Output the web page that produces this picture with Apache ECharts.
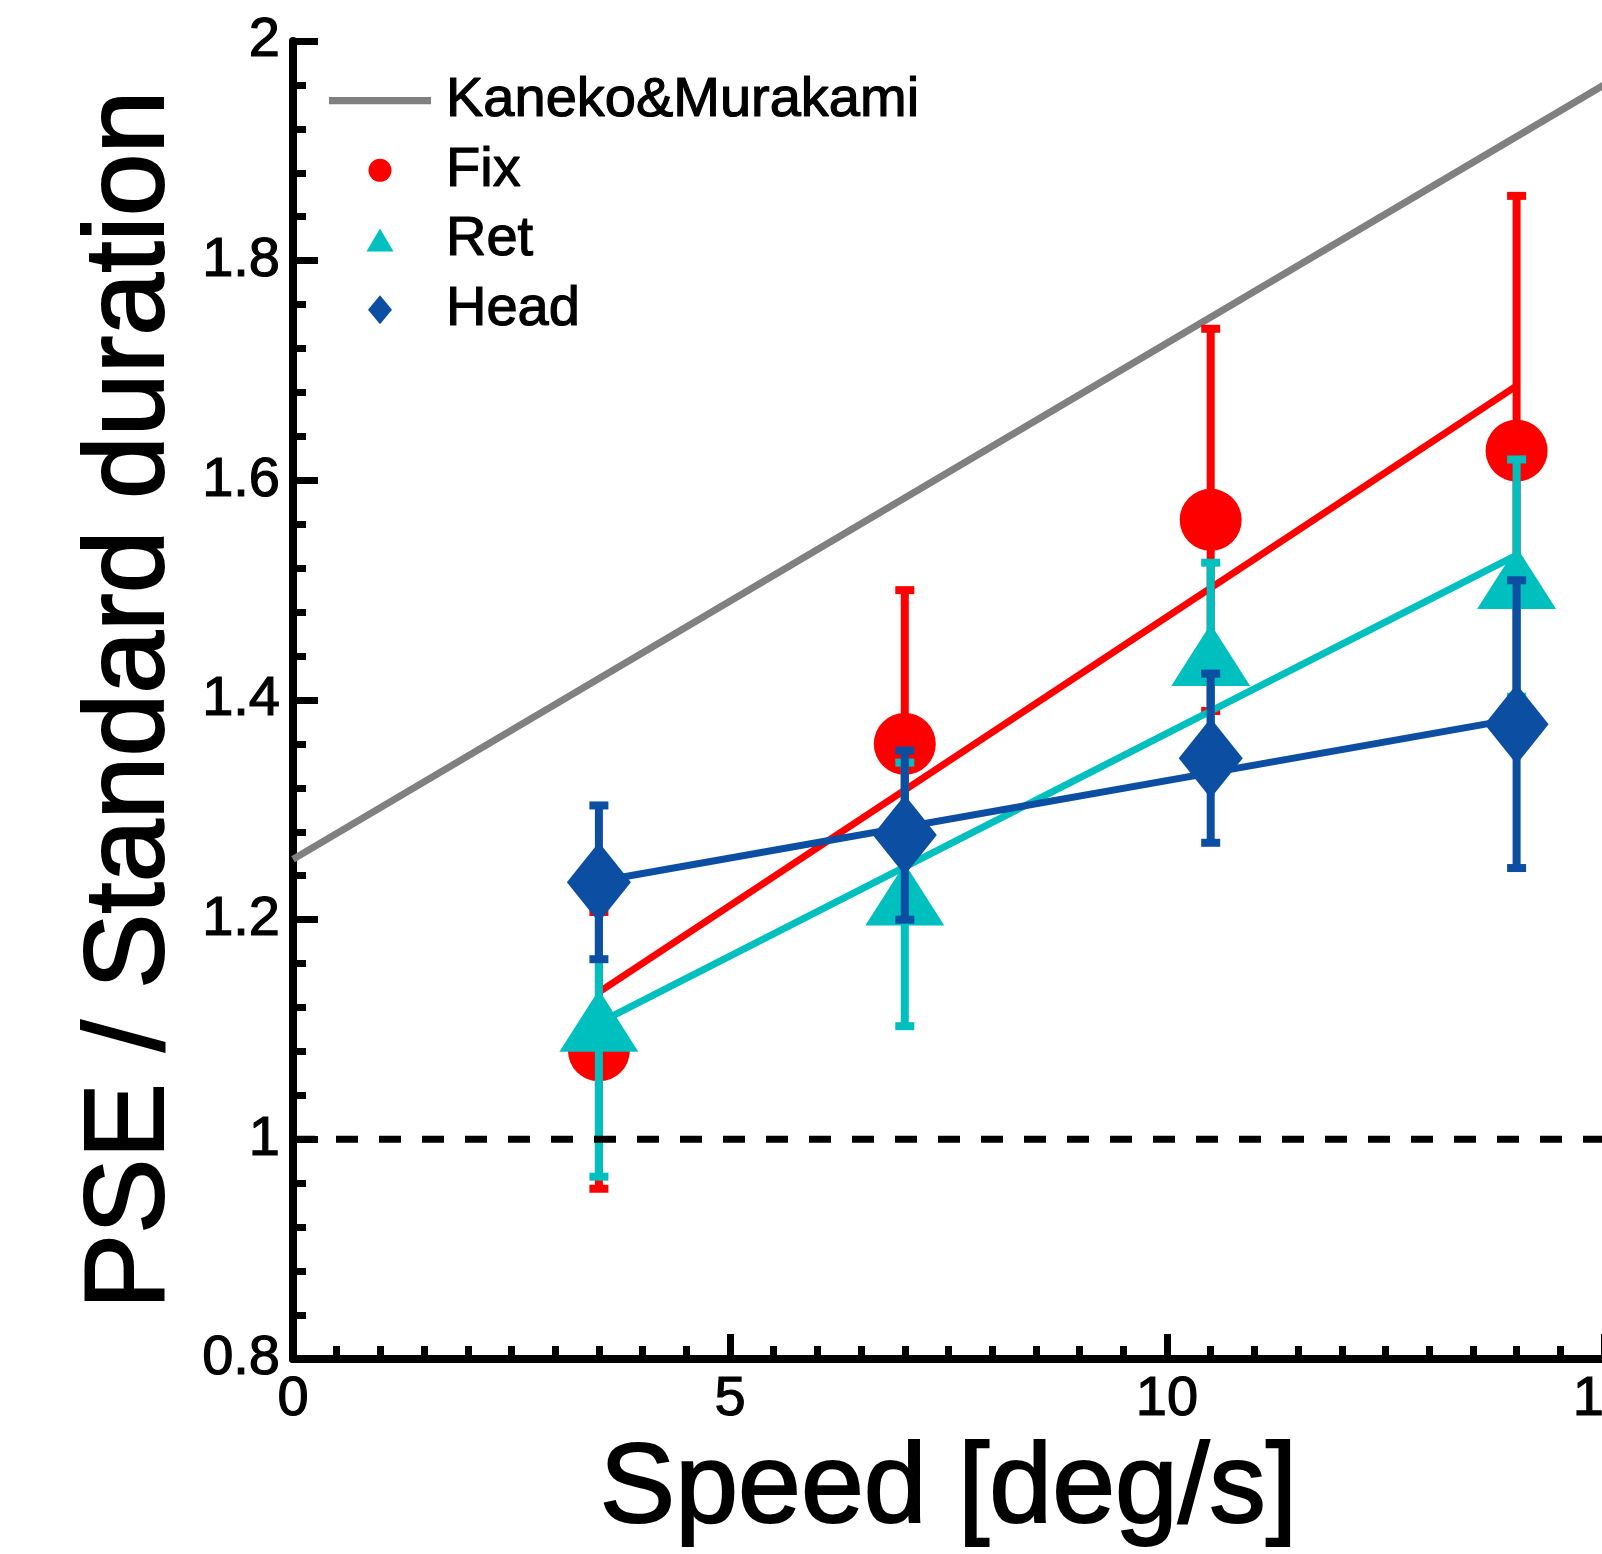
<!DOCTYPE html>
<html>
<head>
<meta charset="utf-8">
<title>PSE / Standard duration</title>
<script src="https://cdn.jsdelivr.net/npm/echarts@6/dist/echarts.min.js"></script>
<style>
  html, body { margin: 0; padding: 0; background: #fff; }
  #chart { width: 1602px; height: 1554px; }
</style>
</head>
<body>
<div id="chart"></div>
<script>
// speeds tested (deg/s)
const speeds = [3.5, 7, 10.5, 14];

// mean PSE / standard duration and error bar half-length per condition
const fixMean = [1.081, 1.360, 1.564, 1.627];
const fixErr = [0.126, 0.140, 0.174, 0.232];
const retMean = [1.108, 1.223, 1.441, 1.511];
const retErr = [0.142, 0.120, 0.084, 0.108];
const headMean = [1.234, 1.277, 1.347, 1.378];
const headErr = [0.070, 0.077, 0.077, 0.131];

// linear fits, drawn between the first and last speed
const fitX = [3.5, 14];
const fixFit = [1.134, 1.686];
const retFit = [1.106, 1.532];
const headFit = [1.235, 1.383];

// Kaneko & Murakami reference line
const kmX = [0, 15];
const kmY = [1.255, 1.96];

// baseline ratio
const baseX = [0, 15];
const baseY = [1, 1];

const xTicks = { min: 0, max: 15, interval: 5 };
const yTicks = { min: 0.8, max: 2, interval: 0.2 };

const FONT = 'Liberation Sans, Arial, sans-serif';
const RED = '#ff0000';
const CYAN = '#00bfbf';
const BLUE = '#0b4ea2';
const GRAY = '#808080';

function pairs(xs, ys) {
  return xs.map((x, i) => [x, ys[i]]);
}

function lineSeries(name, xs, ys, color, z, dashed) {
  return {
    name: name,
    type: 'line',
    data: pairs(xs, ys),
    symbol: 'none',
    silent: true,
    z: z,
    lineStyle: { color: color, width: 7, type: dashed ? [22, 21] : 'solid', cap: 'butt' },
    itemStyle: { color: color }
  };
}

// vertical error bar with caps, positioned through the axes
function errorSeries(name, means, errs, color, z) {
  return {
    name: name,
    type: 'custom',
    silent: true,
    z: z,
    data: speeds.map((x, i) => [x, means[i] - errs[i], means[i] + errs[i]]),
    encode: { x: 0, y: [1, 2] },
    renderItem: function (params, api) {
      const lo = api.coord([api.value(0), api.value(1)]);
      const hi = api.coord([api.value(0), api.value(2)]);
      const half = 9.5;
      const style = { stroke: color, lineWidth: 8, fill: null };
      return {
        type: 'group',
        children: [
          { type: 'line', shape: { x1: lo[0], y1: lo[1], x2: hi[0], y2: hi[1] }, style: style },
          { type: 'line', shape: { x1: lo[0] - half, y1: lo[1], x2: lo[0] + half, y2: lo[1] }, style: style },
          { type: 'line', shape: { x1: hi[0] - half, y1: hi[1], x2: hi[0] + half, y2: hi[1] }, style: style }
        ]
      };
    }
  };
}

function scatterSeries(name, means, color, symbol, size, z) {
  return {
    name: name,
    type: 'scatter',
    data: pairs(speeds, means),
    symbol: symbol,
    symbolSize: size,
    silent: true,
    z: z,
    itemStyle: { color: color, opacity: 1 }
  };
}

const axisCommon = {
  axisLine: { show: true, onZero: false, lineStyle: { color: '#000', width: 8 } },
  axisTick: { show: true, inside: true, length: 25, lineStyle: { color: '#000', width: 7 } },
  minorTick: { show: true, length: 13, lineStyle: { color: '#000', width: 7 } },
  splitLine: { show: false },
  axisLabel: {
    color: '#000', fontSize: 56, fontFamily: FONT, margin: 13,
    textBorderColor: '#000', textBorderWidth: 1.2
  },
  nameLocation: 'middle',
  nameTextStyle: {
    color: '#000', fontSize: 113, fontFamily: FONT,
    textBorderColor: '#000', textBorderWidth: 2
  }
};

const chart = echarts.init(document.getElementById('chart'), null, { renderer: 'canvas' });

chart.setOption({
  animation: false,
  backgroundColor: '#fff',
  grid: { left: 293, top: 41, right: -2, bottom: 195, containLabel: false, outerBoundsMode: 'none' },
  xAxis: Object.assign({}, axisCommon, {
    type: 'value',
    min: xTicks.min, max: xTicks.max, interval: xTicks.interval,
    name: 'Speed [deg/s]',
    nameGap: 66,
    minorTick: Object.assign({}, axisCommon.minorTick, { splitNumber: 10 })
  }),
  yAxis: Object.assign({}, axisCommon, {
    type: 'value',
    min: yTicks.min, max: yTicks.max, interval: yTicks.interval,
    name: 'PSE / Standard duration',
    nameGap: 105,
    minorTick: Object.assign({}, axisCommon.minorTick, { splitNumber: 5 })
  }),
  legend: {
    orient: 'vertical',
    left: 324,
    top: 67,
    align: 'left',
    itemWidth: 102,
    itemHeight: 29,
    itemGap: 12.5,
    selectedMode: false,
    textStyle: {
      color: '#000', fontSize: 56, fontFamily: FONT, lineHeight: 56, padding: [0, 0, 0, 10],
      textBorderColor: '#000', textBorderWidth: 1.2
    },
    data: [
      { name: 'Kaneko&Murakami', icon: 'path://M0,0H100V7H0Z' },
      { name: 'Fix', icon: 'path://M0.5,14.5A11.5,11.5,0,1,1,23.5,14.5A11.5,11.5,0,1,1,0.5,14.5Z M12,0 M12,29' },
      { name: 'Ret', icon: 'path://M13.5,3L27,26L0,26Z M13.5,0 M13.5,29' },
      { name: 'Head', icon: 'path://M12,0L24,14.5L12,29L0,14.5Z' }
    ]
  },
  series: [
    lineSeries('Kaneko&Murakami', kmX, kmY, GRAY, 2),
    lineSeries('Fix fit', fitX, fixFit, RED, 3),
    errorSeries('Fix error', fixMean, fixErr, RED, 4),
    scatterSeries('Fix', fixMean, RED, 'circle', 62, 5),
    lineSeries('Ret fit', fitX, retFit, CYAN, 6),
    errorSeries('Ret error', retMean, retErr, CYAN, 7),
    scatterSeries('Ret', retMean, CYAN, 'triangle', [79, 62], 8),
    lineSeries('Head fit', fitX, headFit, BLUE, 9),
    errorSeries('Head error', headMean, headErr, BLUE, 10),
    scatterSeries('Head', headMean, BLUE, 'diamond', [64, 80], 11),
    lineSeries('Baseline', baseX, baseY, '#000', 12, true)
  ]
});
</script>
</body>
</html>
